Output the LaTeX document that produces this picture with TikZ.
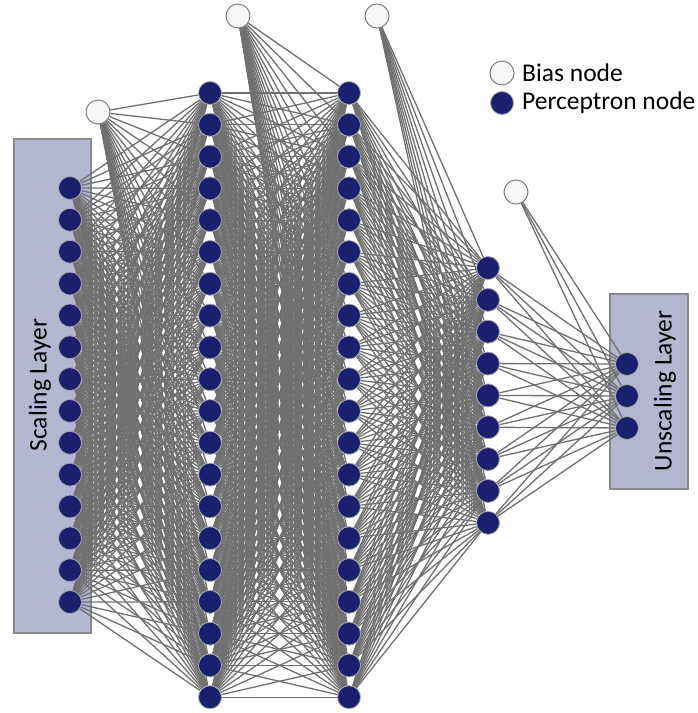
\documentclass[tikz,border=0pt]{standalone}
\usepackage{fontspec}
\setmainfont{Carlito}
\pgfdeclarelayer{boxes}
\pgfdeclarelayer{edges}
\pgfsetlayers{boxes,edges,main}
\definecolor{navy}{RGB}{27,32,110}
\definecolor{edgegray}{RGB}{112,112,112}
\definecolor{boxfill}{RGB}{180,183,210}
\definecolor{boxline}{RGB}{138,138,138}
\begin{document}
\begin{tikzpicture}[x=1pt,y=-1pt,
  perc/.style={circle,fill=navy,draw=gray!70,line width=0.8pt,minimum size=23pt,inner sep=0pt},
  bias/.style={circle,fill=white!97!black,draw=gray,line width=1pt,minimum size=24pt,inner sep=0pt},
  edge/.style={draw=edgegray,line width=1.3pt},
  layerbox/.style={fill=boxfill,draw=boxline,line width=1.5pt},
  lbl/.style={font=\fontsize{25.5}{29}\selectfont,text=black,inner sep=0pt}]
\useasboundingbox (0,0) rectangle (697,713);
% boxes
\begin{pgfonlayer}{boxes}
\draw[layerbox] (14,139) rectangle (91,633);
\node[lbl,rotate=90] (sl) at (40,385) {Scaling Layer};
\draw[layerbox] (610,294) rectangle (688,489);
\node[lbl,rotate=90] (ul) at (665,391) {Unscaling Layer};
\end{pgfonlayer}
% nodes
\foreach \k in {1,...,14} \node[perc] (i\k) at (70,{188+(\k-1)*31.85}) {};
\foreach \k in {1,...,20} \node[perc] (h\k) at (210,{93+(\k-1)*31.8}) {};
\foreach \k in {1,...,20} \node[perc] (g\k) at (349,{93+(\k-1)*31.8}) {};
\foreach \k in {1,...,9} \node[perc] (k\k) at (488,{268+(\k-1)*31.85}) {};
\foreach \k in {1,...,3} \node[perc] (o\k) at (627,{364+(\k-1)*32}) {};
\node[bias] (b1) at (98,112) {};
\node[bias] (b2) at (238,16) {};
\node[bias] (b3) at (377,16) {};
\node[bias] (b4) at (516,192) {};
% edges
\begin{pgfonlayer}{edges}
\foreach \a in {1,...,14} \foreach \b in {1,...,20} \draw[edge] (i\a) -- (h\b);
\foreach \b in {1,...,20} \draw[edge] (b1) -- (h\b);
\foreach \a in {1,...,20} \foreach \b in {1,...,20} \draw[edge] (h\a) -- (g\b);
\foreach \b in {1,...,20} \draw[edge] (b2) -- (g\b);
\foreach \a in {1,...,20} \foreach \b in {1,...,9} \draw[edge] (g\a) -- (k\b);
\foreach \b in {1,...,9} \draw[edge] (b3) -- (k\b);
\foreach \a in {1,...,9} \foreach \b in {1,...,3} \draw[edge] (k\a) -- (o\b);
\foreach \b in {1,...,3} \draw[edge] (b4) -- (o\b);
\end{pgfonlayer}
% legend
\node[bias] (lb) at (502,73) {};
\node[perc] (lp) at (502,103) {};
\node[lbl,anchor=west] (lbt) at (522,73) {Bias node};
\node[lbl,anchor=west] (lpt) at (522,103) {Perceptron node};
\end{tikzpicture}
\end{document}
